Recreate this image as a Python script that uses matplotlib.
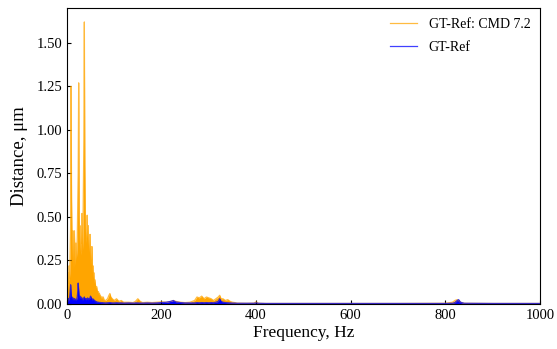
import numpy as np
import matplotlib
matplotlib.use("Agg")
import matplotlib.pyplot as plt

plt.rcParams['font.family'] = ['Liberation Serif', 'DejaVu Serif']
plt.rcParams['mathtext.fontset'] = 'stix'

# Frequency (Hz) for the dense low-frequency part (1 Hz steps, 0..80)
freq_low = list(range(0, 81))
cmd_low = [0.05, 0.15, 0.08, 0.18, 0.12, 0.22, 0.15, 0.30, 0.45, 1.25,
           0.60, 0.35, 0.25, 0.42, 0.20, 0.33, 0.42, 0.28, 0.22, 0.35,
           0.25, 0.30, 0.38, 0.55, 0.75, 1.27, 0.50, 0.30, 0.40, 0.28,
           0.45, 0.35, 0.52, 0.30, 0.40, 0.65, 0.95, 1.62, 0.80, 0.45,
           0.35, 0.42, 0.38, 0.51, 0.33, 0.45, 0.30, 0.38, 0.28, 0.40,
           0.22, 0.30, 0.25, 0.33, 0.18, 0.22, 0.15, 0.18, 0.12, 0.14,
           0.12, 0.10, 0.09, 0.10, 0.08, 0.07, 0.06, 0.07, 0.05, 0.06,
           0.04, 0.05, 0.03, 0.04, 0.03, 0.04, 0.02, 0.04, 0.03, 0.02,
           0.02]
ref_low = [0.010, 0.020, 0.015, 0.030, 0.020, 0.030, 0.040, 0.070, 0.110, 0.060,
           0.030, 0.040, 0.020, 0.035, 0.020, 0.030, 0.025, 0.030, 0.020, 0.025,
           0.020, 0.030, 0.040, 0.070, 0.120, 0.080, 0.040, 0.030, 0.045, 0.030,
           0.040, 0.025, 0.035, 0.020, 0.030, 0.025, 0.035, 0.040, 0.030, 0.025,
           0.030, 0.020, 0.030, 0.025, 0.035, 0.020, 0.030, 0.025, 0.030, 0.035,
           0.045, 0.040, 0.030, 0.025, 0.020, 0.030, 0.020, 0.025, 0.015, 0.020,
           0.012, 0.015, 0.010, 0.012, 0.010, 0.011, 0.009, 0.010, 0.008, 0.009,
           0.008, 0.009, 0.007, 0.008, 0.007, 0.008, 0.007, 0.007, 0.006, 0.007,
           0.006]

# Sparse high-frequency part
freq_high = [82, 86, 89, 91, 93, 96, 100, 105, 110, 115, 120, 130, 140, 145, 150,
             155, 160, 170, 180, 190, 200, 210, 220, 225, 230, 240, 250, 260, 270,
             275, 280, 285, 290, 295, 300, 305, 310, 315, 320, 323, 326, 330, 335,
             340, 345, 350, 355, 360, 380, 395, 400, 405, 420, 500, 600, 700, 800,
             815, 820, 825, 828, 832, 840, 900, 1000]
cmd_high = [0.02, 0.03, 0.05, 0.06, 0.04, 0.03, 0.02, 0.03, 0.015, 0.02, 0.01,
            0.01, 0.008, 0.015, 0.03, 0.015, 0.008, 0.01, 0.008, 0.01, 0.012, 0.01,
            0.015, 0.02, 0.015, 0.01, 0.008, 0.01, 0.02, 0.04, 0.035, 0.045, 0.03,
            0.04, 0.035, 0.03, 0.02, 0.03, 0.04, 0.05, 0.03, 0.03, 0.02, 0.025,
            0.015, 0.01, 0.008, 0.005, 0.004, 0.005, 0.012, 0.004, 0.003, 0.003,
            0.003, 0.003, 0.004, 0.01, 0.02, 0.025, 0.02, 0.01, 0.004, 0.003, 0.003]
ref_high = [0.006, 0.007, 0.008, 0.008, 0.007, 0.006, 0.006, 0.007, 0.006, 0.006,
            0.005, 0.006, 0.005, 0.006, 0.006, 0.005, 0.005, 0.006, 0.005, 0.006,
            0.008, 0.010, 0.015, 0.020, 0.012, 0.008, 0.006, 0.006, 0.006, 0.008,
            0.007, 0.008, 0.007, 0.008, 0.007, 0.008, 0.007, 0.010, 0.015, 0.030,
            0.015, 0.010, 0.008, 0.007, 0.006, 0.005, 0.005, 0.004, 0.004, 0.004,
            0.006, 0.004, 0.003, 0.003, 0.003, 0.003, 0.003, 0.004, 0.008, 0.020,
            0.025, 0.010, 0.004, 0.003, 0.003]

freq = np.array(freq_low + freq_high, dtype=float)
cmd = np.array(cmd_low + cmd_high)
ref = np.array(ref_low + ref_high)

fig = plt.figure(figsize=(5.57, 3.49), dpi=100)
ax = fig.add_axes([0.120, 0.129, 0.8495, 0.848])

ax.fill_between(freq, 0, cmd, color='orange', lw=0)
ax.plot(freq, cmd, color='orange', lw=0.9, alpha=0.75, label='GT-Ref: CMD 7.2')
ax.fill_between(freq, 0, ref, color='blue', lw=0)
ax.plot(freq, ref, color='blue', lw=0.9, alpha=0.75, label='GT-Ref')

ax.set_xlim(0, 1000)
ax.set_ylim(0, 1.70)
ax.set_yticks([0, 0.25, 0.5, 0.75, 1.0, 1.25, 1.5])
ax.set_yticklabels(['0.00', '0.25', '0.50', '0.75', '1.00', '1.25', '1.50'])
ax.set_xticks([0, 200, 400, 600, 800, 1000])
ax.tick_params(direction='in', labelsize=10.5, length=3)
ax.set_xlabel('Frequency, Hz', fontsize=12.5, labelpad=2)
ax.set_ylabel('Distance, μm', fontsize=13.5, labelpad=6)
ax.legend(loc='upper right', frameon=False, fontsize=10, handlelength=2.0,
          borderaxespad=0.3, labelspacing=0.75)

fig.savefig('out.png', dpi=100)
